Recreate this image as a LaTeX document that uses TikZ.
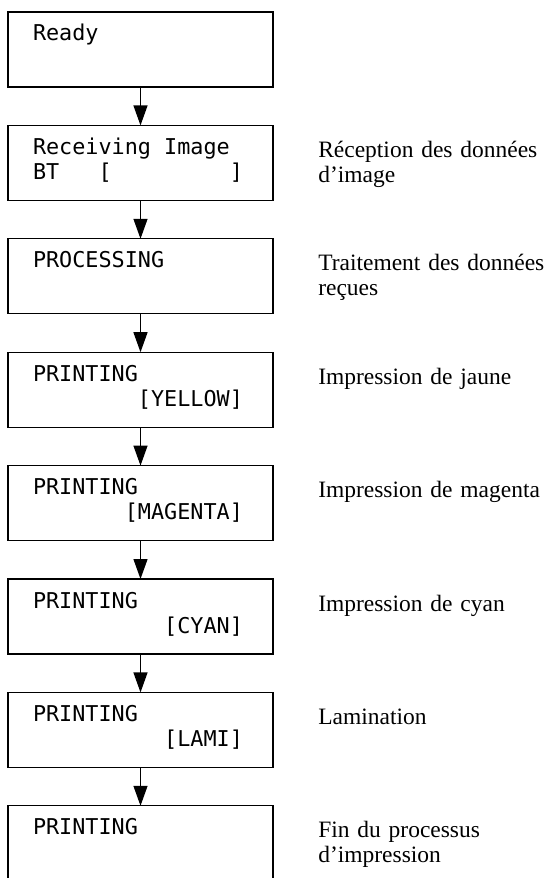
\documentclass[tikz,border=0pt]{standalone}
\usepackage{fontspec}
\setmainfont{Liberation Serif}
\newfontfamily\lcdfont{DejaVu Sans Mono}
\usetikzlibrary{arrows.meta,positioning,calc}

% empty LCD columns
\newcommand{\cols}[1]{\leavevmode\hspace*{#1\dimexpr0.602em\relax}}

\begin{document}
\begin{tikzpicture}[
    screen/.style={draw, line width=0.9pt, anchor=north west, align=left,
        text width=5.375cm, inner xsep=0.625cm, inner ysep=0pt, outer sep=0pt,
        text height=0.725cm, text depth=1.15cm,
        font=\lcdfont\fontsize{15.5pt}{17.8pt}\selectfont},
    note/.style={anchor=base west, align=left, text width=5.8cm, inner sep=0pt,
        font=\fontsize{16.7pt}{17.8pt}\selectfont},
    flow/.style={line width=0.9pt, -{Triangle[length=0.5cm, width=0.35cm]}}
]
    \useasboundingbox (0,0) rectangle (13.725,-21.95);

    % LCD screens
    \node[screen] (s1) at (0.2,-0.3) {Ready};
    \node[screen, below=0.96cm of s1] (s2) {Receiving\cols{1}Image\\BT\cols{3}[\cols{9}]};
    \node[screen, below=0.96cm of s2] (s3) {PROCESSING};
    \node[screen, below=0.96cm of s3] (s4) {PRINTING\\\cols{8}[YELLOW]};
    \node[screen, below=0.96cm of s4] (s5) {PRINTING\\\cols{7}[MAGENTA]};
    \node[screen, below=0.96cm of s5] (s6) {PRINTING\\\cols{10}[CYAN]};
    \node[screen, below=0.96cm of s6] (s7) {PRINTING\\\cols{10}[LAMI]};
    \node[screen, below=0.96cm of s7] (s8) {PRINTING};

    % Arrows
    \foreach \a/\b in {s1/s2, s2/s3, s3/s4, s4/s5, s5/s6, s6/s7, s7/s8} {
        \draw[flow] (\a.south) -- (\b.north);
    }

    % Notes
    \node[note] (n2) at ($(s2.north east)+(1.125,-0.8)$) {Réception des données\\d’image};
    \node[note] (n3) at ($(s3.north east)+(1.125,-0.8)$) {Traitement des données\\reçues};
    \node[note] (n4) at ($(s4.north east)+(1.125,-0.8)$) {Impression de jaune};
    \node[note] (n5) at ($(s5.north east)+(1.125,-0.8)$) {Impression de magenta};
    \node[note] (n6) at ($(s6.north east)+(1.125,-0.8)$) {Impression de cyan};
    \node[note] (n7) at ($(s7.north east)+(1.125,-0.8)$) {Lamination};
    \node[note] (n8) at ($(s8.north east)+(1.125,-0.8)$) {Fin du processus\\d’impression};
\end{tikzpicture}
\end{document}
